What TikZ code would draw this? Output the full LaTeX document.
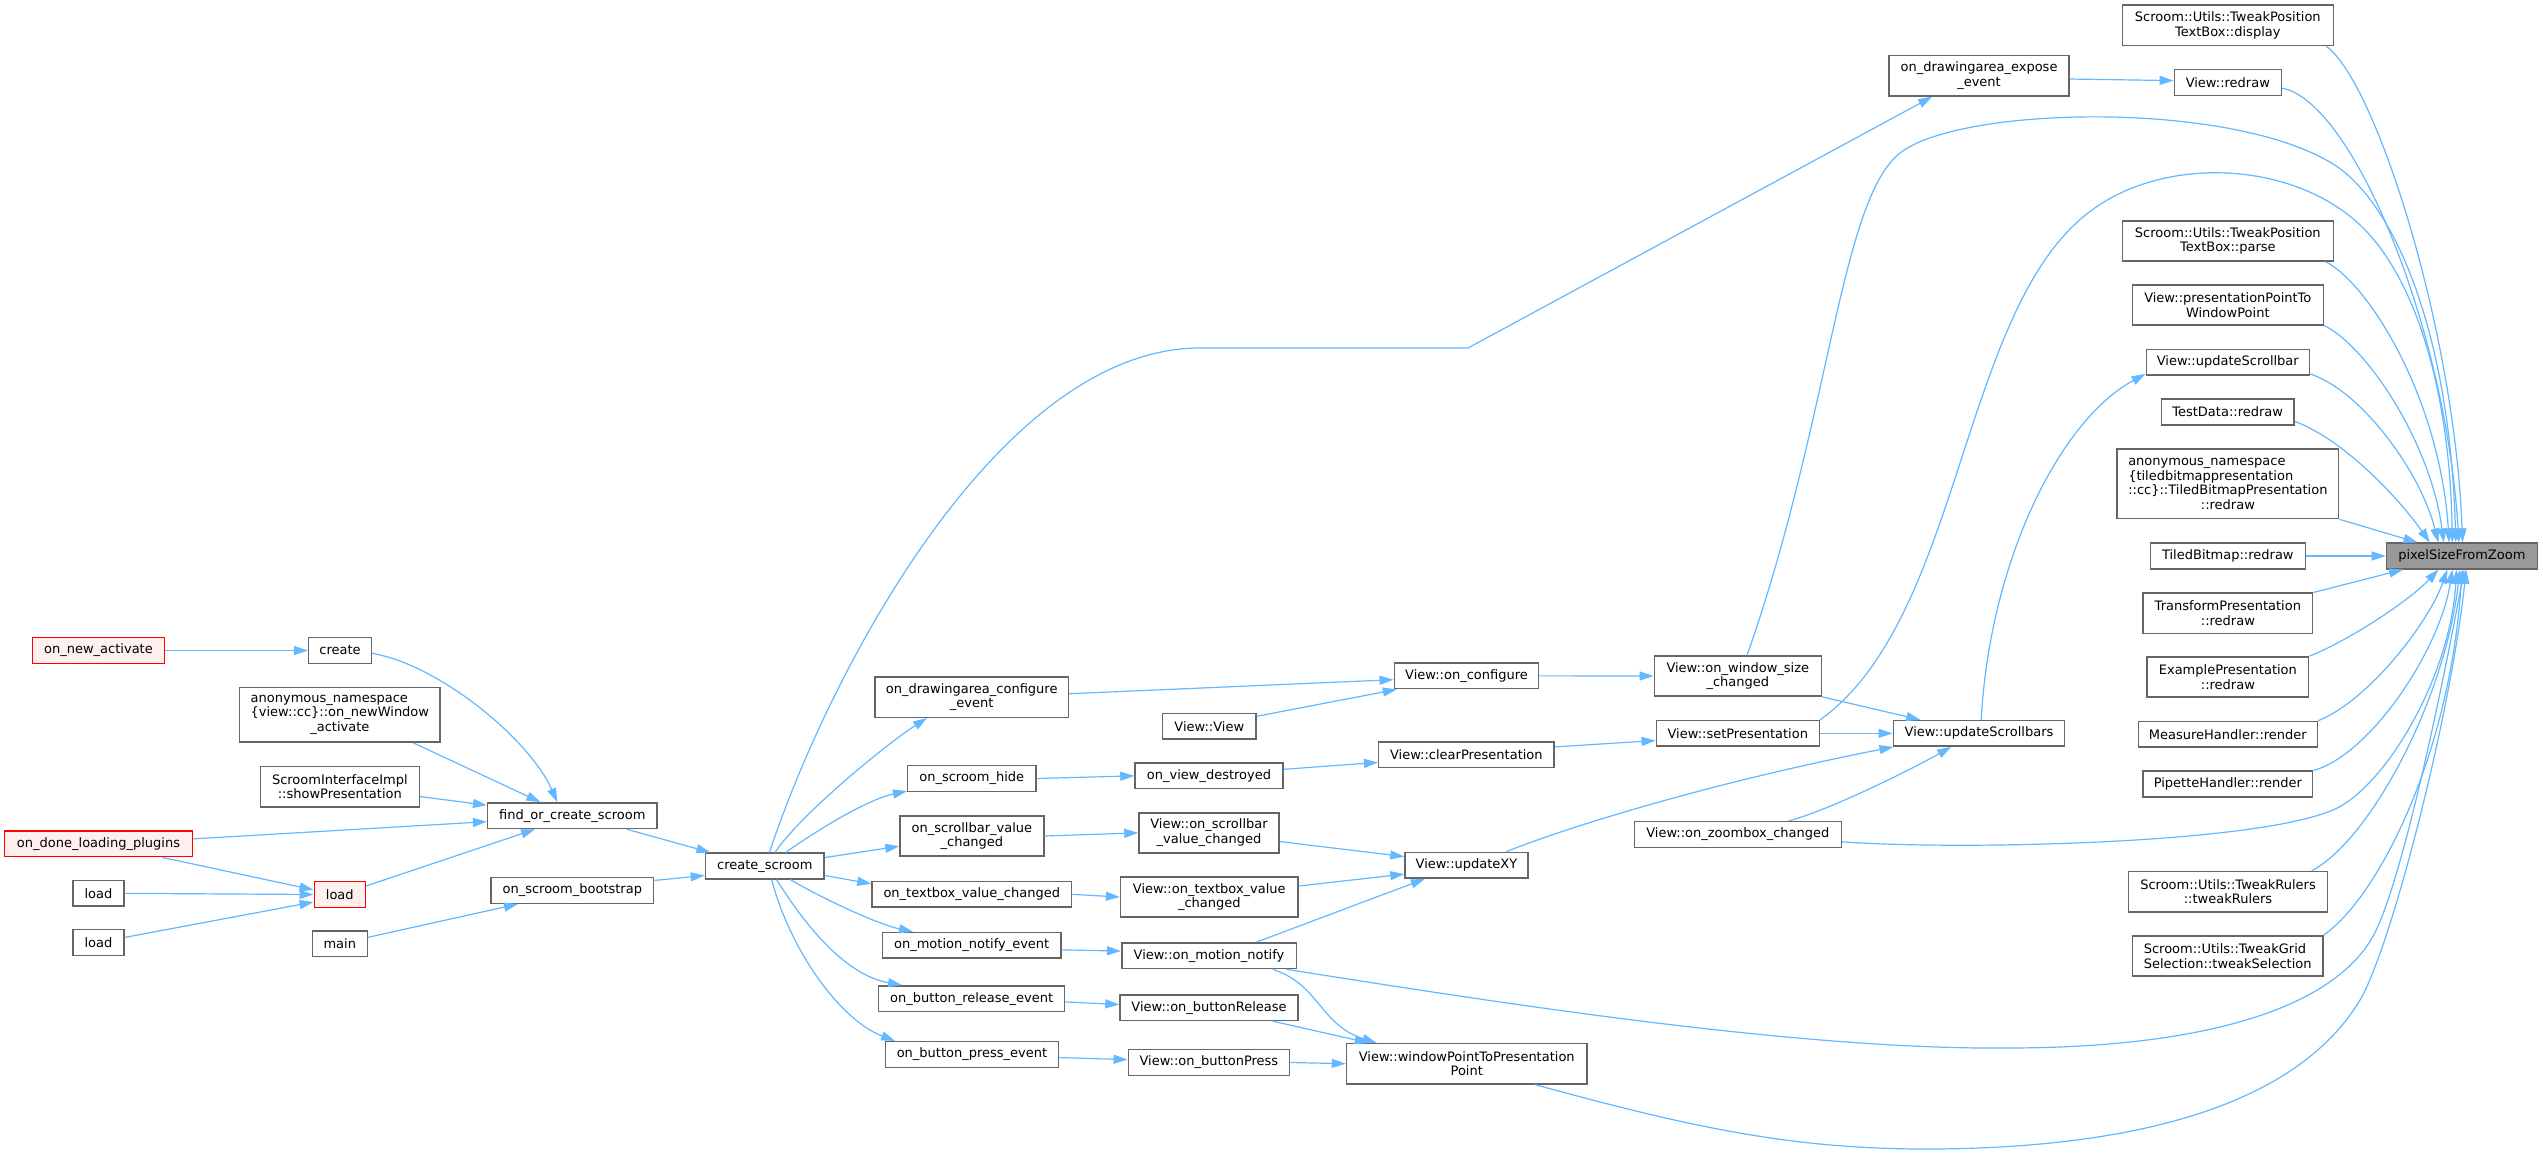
\documentclass[tikz,border=0pt]{standalone}
\usepackage{fontspec}
\setmainfont{DejaVu Sans}
\usetikzlibrary{arrows.meta}
\definecolor{dgray}{HTML}{666666}
\definecolor{eblue}{HTML}{63B8FF}
\definecolor{pinkf}{HTML}{FFF0F0}
\definecolor{rootf}{HTML}{999999}
\newlength\lnw
\newcommand\lft[2]{\settowidth\lnw{#1}\makebox[\lnw][l]{#2}}
\newcommand\nfont{\fontsize{6.5pt}{7.33pt}\selectfont}
\tikzset{
  nbox/.style={draw=dgray, fill=white, line width=0.75pt, inner sep=0pt, align=center, font=\nfont, minimum height=12.8pt, text=black},
  hbox/.style={nbox, draw=red, fill=pinkf},
  rbox/.style={nbox, fill=rootf},
  ltwo/.style={minimum height=20.1pt},
  lthree/.style={minimum height=27.35pt},
  lfour/.style={minimum height=34.8pt},
  edg/.style={draw=eblue, line width=0.6pt, -{Triangle[length=7pt,width=4.5pt]}, fill=none},
}
\begin{document}
\begin{tikzpicture}[x=0.5pt,y=-0.5pt]
\fill[white] (0,0) rectangle (2543,1155);
\useasboundingbox (0,0) rectangle (2543,1155);

% left part
\node[hbox,minimum width=66.2pt] (ona) at (98.5,650.5) {on\_new\_activate};
\node[nbox,minimum width=31.3pt] (create) at (340,650.5) {create};
\node[nbox,lthree,minimum width=100.15pt] (anonv) at (339.85,714.65) {\lft{\{view::cc\}::on\_newWindow}{anonymous\_namespace}\\\{view::cc\}::on\_newWindow\\\_activate};
\node[nbox,ltwo,minimum width=79.5pt] (sii) at (339.8,786.7) {ScroomInterfaceImpl\\::showPresentation};
\node[nbox,minimum width=84.65pt] (focs) at (572.35,815.7) {find\_or\_create\_scroom};
\node[hbox,minimum width=93.8pt] (odlp) at (98.5,843.85) {on\_done\_loading\_plugins};
\node[nbox,minimum width=25.5pt] (load1) at (98.5,893.35) {load};
\node[hbox,minimum width=25.5pt] (loadR) at (339.8,894.5) {load};
\node[nbox,minimum width=25.5pt] (load2) at (98.5,942.5) {load};
\node[nbox,minimum width=81.3pt] (osb) at (572.3,890.5) {on\_scroom\_bootstrap};
\node[nbox,minimum width=27.5pt] (main) at (339.8,943.85) {main};
\node[nbox,minimum width=59.25pt] (cs) at (764.75,866) {create\_scroom};

% column 1
\node[nbox,ltwo,minimum width=96.7pt] (odce) at (971.7,697.15) {on\_drawingarea\_configure\\\_event};
\node[nbox,minimum width=64.05pt] (osh) at (971.75,778.5) {on\_scroom\_hide};
\node[nbox,ltwo,minimum width=71.9pt] (osvc) at (971.9,836) {on\_scrollbar\_value\\\_changed};
\node[nbox,minimum width=99.75pt] (otvc) at (971.75,894.35) {on\_textbox\_value\_changed};
\node[nbox,minimum width=89.3pt] (omne) at (971.7,945.15) {on\_motion\_notify\_event};
\node[nbox,minimum width=93pt] (obre) at (971.7,998.65) {on\_button\_release\_event};
\node[nbox,minimum width=86.65pt] (obpe) at (972,1054.5) {on\_button\_press\_event};

% column 2
\node[nbox,minimum width=46.7pt] (vview) at (1209.3,726.35) {View::View};
\node[nbox,minimum width=74pt] (ovd) at (1209,775.85) {on\_view\_destroyed};
\node[nbox,ltwo,minimum width=70pt] (vosvc) at (1209,832.85) {View::on\_scrollbar\\\_value\_changed};
\node[nbox,ltwo,minimum width=88.7pt] (votvc) at (1209.3,897) {View::on\_textbox\_value\\\_changed};
\node[nbox,minimum width=87.25pt] (vomn) at (1209,955.7) {View::on\_motion\_notify};
\node[nbox,minimum width=89pt] (vobr) at (1209,1007.65) {View::on\_buttonRelease};
\node[nbox,minimum width=80.6pt] (vobp) at (1208.9,1062.5) {View::on\_buttonPress};

% column 3
\node[nbox,minimum width=72.2pt] (voc) at (1466.5,675.85) {View::on\_configure};
\node[nbox,minimum width=87.65pt] (vcp) at (1466.35,754.65) {View::clearPresentation};
\node[nbox,minimum width=61.5pt] (vuxy) at (1466.5,865.35) {View::updateXY};
\node[nbox,ltwo,minimum width=120.25pt] (vwp) at (1466.75,1063.7) {View::windowPointToPresentation\\Point};

% column 4
\node[nbox,ltwo,minimum width=83.5pt] (vowsc) at (1737.8,676) {View::on\_window\_size\\\_changed};
\node[nbox,minimum width=81.5pt] (vsp) at (1737.8,733.35) {View::setPresentation};
\node[nbox,minimum width=103.5pt] (vozc) at (1737.8,834.5) {View::on\_zoombox\_changed};

% column 5
\node[nbox,ltwo,minimum width=90pt] (odee) at (1979,75.85) {on\_drawingarea\_expose\\\_event};
\node[nbox,minimum width=85.7pt] (vusb) at (1979,733.35) {View::updateScrollbars};

% right column
\node[nbox,ltwo,minimum width=105.5pt] (tpd) at (2227.8,25.2) {Scroom::Utils::TweakPosition\\TextBox::display};
\node[nbox,minimum width=53.5pt] (vrd) at (2227.8,82.5) {View::redraw};
\node[nbox,ltwo,minimum width=105.5pt] (tpp) at (2227.8,241) {Scroom::Utils::TweakPosition\\TextBox::parse};
\node[nbox,ltwo,minimum width=95.5pt] (vpp) at (2227.8,305) {View::presentationPointTo\\WindowPoint};
\node[nbox,minimum width=81.5pt] (vusb1) at (2227.8,362.35) {View::updateScrollbar};
\node[nbox,minimum width=66.35pt] (tdr) at (2227.65,412) {TestData::redraw};
\node[nbox,lfour,minimum width=110.85pt] (atb) at (2227.85,483.8) {\lft{::cc\}::TiledBitmapPresentation}{anonymous\_namespace}\\\lft{::cc\}::TiledBitmapPresentation}{\{tiledbitmappresentation}\\::cc\}::TiledBitmapPresentation\\::redraw};
\node[nbox,minimum width=77.5pt] (tbr) at (2227.8,556) {TiledBitmap::redraw};
\node[nbox,ltwo,minimum width=84.85pt] (tpr) at (2227.85,613.3) {TransformPresentation\\::redraw};
\node[nbox,ltwo,minimum width=80.85pt] (epr) at (2227.85,677) {ExamplePresentation\\::redraw};
\node[nbox,minimum width=89.5pt] (mhr) at (2227.8,734.3) {MeasureHandler::render};
\node[nbox,minimum width=84.85pt] (phr) at (2227.85,784) {PipetteHandler::render};
\node[nbox,ltwo,minimum width=99.3pt] (trr) at (2228,891.7) {Scroom::Utils::TweakRulers\\::tweakRulers};
\node[nbox,ltwo,minimum width=95.35pt] (tgs) at (2227.65,955.85) {\lft{Selection::tweakSelection}{Scroom::Utils::TweakGrid}\\Selection::tweakSelection};
\node[rbox,minimum width=75.5pt] (psfz) at (2461.8,556) {pixelSizeFromZoom};

% edges, left part
\draw[edg] (ona.east) -- (create.west);
\draw[edg] (create.-5) .. controls (440,665) and (530,740) .. (focs.138);
\draw[edg] (anonv.-21) -- (focs.157);
\draw[edg] (sii.-7) -- (focs.173);
\draw[edg] (odlp.3) -- (focs.184);
\draw[edg] (odlp.-12) -- (loadR.170);
\draw[edg] (load1.east) -- (loadR.west);
\draw[edg] (load2.11) -- (loadR.196);
\draw[edg] (loadR.18) -- (focs.200);
\draw[edg] (main.13) -- (osb.194);
\draw[edg] (focs.-14) -- (cs.166);
\draw[edg] (osb.7) -- (cs.189);

% from create_scroom
\draw[edg] (cs.71) .. controls (830,670) and (1000,348) .. (1200,348) -- (1468,348) -- (odee.204);
\draw[edg] (cs.53) .. controls (800,815) and (885,745) .. (odce.205);
\draw[edg] (cs.33) .. controls (810,835) and (865,800) .. (osh.191);
\draw[edg] (cs.8) -- (osvc.188);
\draw[edg] (cs.-9) -- (otvc.174);
\draw[edg] (cs.-28) .. controls (825,900) and (880,925) .. (omne.167);
\draw[edg] (cs.-49) .. controls (805,925) and (845,975) .. (obre.169);
\draw[edg] (cs.-63) .. controls (790,950) and (840,1020) .. (obpe.170);

% column 1 -> column 2/3
\draw[edg] (odce.2) -- (voc.183);
\draw[edg] (vview.12) -- (voc.191);
\draw[edg] (osh.east) -- (ovd.west);
\draw[edg] (ovd.5) -- (vcp.185);
\draw[edg] (osvc.east) -- (vosvc.west);
\draw[edg] (otvc.east) -- (votvc.west);
\draw[edg] (omne.-3) -- (vomn.177);
\draw[edg] (obre.-2) -- (vobr.178);
\draw[edg] (obpe.-2) -- (vobp.178);

% column 2 -> column 3
\draw[edg] (vosvc.-7) -- (vuxy.172);
\draw[edg] (votvc.7) -- (vuxy.188);
\draw[edg] (vomn.16) -- (vuxy.198);
\draw[edg] (vomn.-12) .. controls (1320,985) and (1320,1025) .. (vwp.167);
\draw[edg] (vobr.-12) -- (vwp.168);
\draw[edg] (vobp.east) -- (vwp.west);

% column 3 -> 4 -> 5
\draw[edg] (voc.east) -- (vowsc.west);
\draw[edg] (vcp.5) -- (vsp.185);
\draw[edg] (vuxy.19) .. controls (1560,830) and (1700,785) .. (vusb.189);
\draw[edg] (vowsc.south east) -- (vusb.167);
\draw[edg] (vsp.east) -- (vusb.west);
\draw[edg] (vozc.15) .. controls (1830,810) and (1910,770) .. (vusb.206);
\draw[edg] (odee.-2) -- (vrd.178);
\draw[edg] (vusb.81) .. controls (1990,560) and (2060,420) .. (vusb1.188);

% into pixelSizeFromZoom
\draw[edg] (tpd.-12) .. controls (2375,80) and (2455,330) .. (psfz.87);
\draw[edg] (vrd.-6) .. controls (2350,100) and (2445,320) .. (psfz.102);
\draw[edg] (vowsc.66) .. controls (1830,420) and (1840,200) .. (1900,153)
  .. controls (1960,106) and (2230,100) .. (2333,164)
  .. controls (2393,201) and (2450,330) .. (psfz.114);
\draw[edg] (vsp.north east) .. controls (1960,620) and (1960,320) .. (2083,217)
  .. controls (2160,152) and (2300,160) .. (2367,232)
  .. controls (2420,289) and (2450,400) .. (psfz.125);
\draw[edg] (tpp.-12) .. controls (2370,285) and (2440,400) .. (psfz.133);
\draw[edg] (vpp.-12) .. controls (2365,345) and (2430,440) .. (psfz.143);
\draw[edg] (vusb1.-8) .. controls (2360,390) and (2420,470) .. (psfz.150);
\draw[edg] (tdr.-8) .. controls (2345,440) and (2400,500) .. (psfz.157);
\draw[edg] (atb.south east) -- (psfz.163);
\draw[edg] (tbr.east) -- (psfz.west);
\draw[edg] (tpr.north east) -- (psfz.193);
\draw[edg] (epr.north east) .. controls (2350,640) and (2410,600) .. (psfz.210);
\draw[edg] (mhr.north east) .. controls (2370,700) and (2430,620) .. (psfz.223);
\draw[edg] (phr.north east) .. controls (2370,755) and (2440,650) .. (psfz.235);
\draw[edg] (vozc.-4) .. controls (1950,850) and (2250,845) .. (2333,810)
  .. controls (2383,789) and (2450,680) .. (psfz.249);
\draw[edg] (trr.14) .. controls (2370,840) and (2445,700) .. (psfz.262);
\draw[edg] (tgs.north east) .. controls (2375,900) and (2450,760) .. (psfz.271);
\draw[edg] (vomn.-10) .. controls (1500,1003) and (1800,1050) .. (2007,1048)
  .. controls (2200,1048) and (2330,1010) .. (2372,938)
  .. controls (2400,890) and (2440,700) .. (psfz.280);
\draw[edg] (vwp.-17) .. controls (1700,1130) and (1800,1150) .. (1937,1149)
  .. controls (2150,1147) and (2300,1100) .. (2360,1000)
  .. controls (2390,950) and (2450,720) .. (psfz.288);
\end{tikzpicture}
\end{document}
